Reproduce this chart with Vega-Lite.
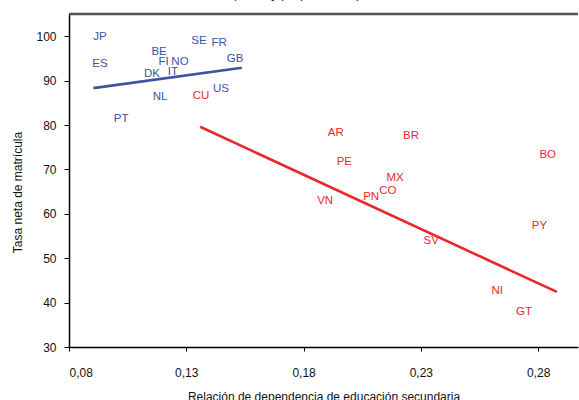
{
  "$schema": "https://vega.github.io/schema/vega-lite/v6.json",
  "autosize": {"type": "none"},
  "width": 509,
  "height": 333,
  "padding": {"left": 69, "top": 14, "right": 1, "bottom": 53},
  "background": "white",
  "config": {
    "locale": {"number": {"decimal": ",", "thousands": ".", "grouping": [3], "currency": ["", ""]}},
    "view": {"stroke": null},
    "font": "Liberation Sans"
  },
  "title": {
    "text": "(tasas y proporciones)",
    "font": "Liberation Sans",
    "fontStyle": "italic",
    "fontWeight": "normal",
    "fontSize": 13,
    "color": "#222",
    "anchor": "middle",
    "dx": -26,
    "offset": 12
  },
  "datasets": {
    "pts": [
      {"code": "JP", "x": 0.0932, "y": 99.8, "g": "A"},
      {"code": "ES", "x": 0.0932, "y": 93.8, "g": "A"},
      {"code": "BE", "x": 0.1184, "y": 96.4, "g": "A"},
      {"code": "SE", "x": 0.1354, "y": 98.9, "g": "A"},
      {"code": "FR", "x": 0.1440, "y": 98.4, "g": "A"},
      {"code": "FI", "x": 0.1203, "y": 94.2, "g": "A"},
      {"code": "NO", "x": 0.1273, "y": 94.3, "g": "A"},
      {"code": "GB", "x": 0.1508, "y": 94.8, "g": "A"},
      {"code": "DK", "x": 0.1154, "y": 91.5, "g": "A"},
      {"code": "IT", "x": 0.1243, "y": 91.9, "g": "A"},
      {"code": "NL", "x": 0.1188, "y": 86.3, "g": "A"},
      {"code": "US", "x": 0.1448, "y": 88.1, "g": "A"},
      {"code": "PT", "x": 0.1022, "y": 81.4, "g": "A"},
      {"code": "CU", "x": 0.1363, "y": 86.5, "g": "B"},
      {"code": "AR", "x": 0.1937, "y": 78.3, "g": "B"},
      {"code": "BR", "x": 0.2258, "y": 77.5, "g": "B"},
      {"code": "PE", "x": 0.1974, "y": 71.7, "g": "B"},
      {"code": "MX", "x": 0.2190, "y": 68.1, "g": "B"},
      {"code": "CO", "x": 0.2159, "y": 65.1, "g": "B"},
      {"code": "PN", "x": 0.2088, "y": 63.8, "g": "B"},
      {"code": "VN", "x": 0.1892, "y": 62.8, "g": "B"},
      {"code": "SV", "x": 0.2344, "y": 53.8, "g": "B"},
      {"code": "BO", "x": 0.2841, "y": 73.2, "g": "B"},
      {"code": "PY", "x": 0.2806, "y": 57.2, "g": "B"},
      {"code": "NI", "x": 0.2626, "y": 42.7, "g": "B"},
      {"code": "GT", "x": 0.2740, "y": 37.9, "g": "B"}
    ],
    "fits": [
      {"x": 0.0904, "y": 88.3, "g": "A"},
      {"x": 0.1537, "y": 92.9, "g": "A"},
      {"x": 0.1359, "y": 79.6, "g": "B"},
      {"x": 0.2880, "y": 42.4, "g": "B"}
    ]
  },
  "layer": [
    {
      "data": {"name": "pts"},
      "mark": {"type": "text", "fontSize": 11.5, "font": "Liberation Sans", "align": "center", "baseline": "middle"},
      "encoding": {
        "x": {
          "field": "x", "type": "quantitative",
          "scale": {"domain": [0.08, 0.297], "nice": false, "zero": false},
          "axis": {
            "title": "Relación de dependencia de educación secundaria",
            "values": [0.08, 0.13, 0.18, 0.23, 0.28],
            "format": ".2f",
            "grid": false,
            "domainColor": "#000", "domainWidth": 1.5,
            "tickColor": "#000", "tickSize": 4, "tickWidth": 1,
            "labelFontSize": 12, "labelColor": "#111", "labelPadding": 16, "labelFont": "Liberation Sans",
            "titleFontSize": 12, "titleFontWeight": "normal", "titleColor": "#111", "titleFont": "Liberation Sans",
            "titleY": 49, "titleBaseline": "middle"
          }
        },
        "y": {
          "field": "y", "type": "quantitative",
          "scale": {"domain": [30, 105], "nice": false, "zero": false},
          "axis": {
            "title": "Tasa neta de matrícula",
            "values": [30, 40, 50, 60, 70, 80, 90, 100],
            "grid": false,
            "domainColor": "#000", "domainWidth": 1.5,
            "tickColor": "#000", "tickSize": 5, "tickWidth": 1,
            "labelFontSize": 12, "labelColor": "#111", "labelPadding": 8, "labelFont": "Liberation Sans",
            "titleFontSize": 12, "titleFontWeight": "normal", "titleColor": "#111", "titleFont": "Liberation Sans",
            "titleX": -52, "titleY": 178, "titleBaseline": "middle"
          }
        },
        "text": {"field": "code"},
        "color": {"field": "g", "type": "nominal", "scale": {"domain": ["A", "B"], "range": ["#3d53a1", "#e8282c"]}, "legend": null}
      }
    },
    {
      "data": {"name": "fits"},
      "mark": {"type": "line", "strokeWidth": 2.6},
      "encoding": {
        "x": {"field": "x", "type": "quantitative"},
        "y": {"field": "y", "type": "quantitative"},
        "detail": {"field": "g"},
        "color": {"field": "g", "type": "nominal", "scale": {"domain": ["A", "B"], "range": ["#2b3f98", "#e3211f"]}, "legend": null}
      }
    },
    {
      "data": {"values": [{"top": 105}]},
      "mark": {"type": "rule", "color": "#555555", "strokeWidth": 2.5},
      "encoding": {"y": {"field": "top", "type": "quantitative"}}
    }
  ]
}
